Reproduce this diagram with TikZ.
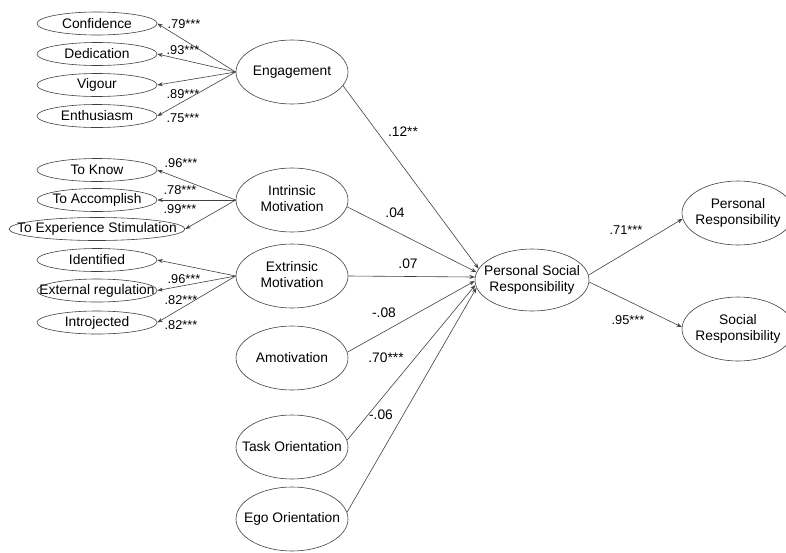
\documentclass[tikz,border=0pt]{standalone}
\usepackage{fontspec}
\setmainfont{Liberation Sans}
\usetikzlibrary{arrows.meta,shapes.geometric}

\definecolor{linegray}{RGB}{64,64,64}
\newcommand{\ctr}[1]{\makebox[0pt]{#1}}
\newcommand{\twoline}[2]{\makebox[0pt]{\begin{tabular}{@{}c@{}}#1\\#2\end{tabular}}}

\tikzset{
  item/.style={ellipse, draw=linegray, line width=0.6pt, inner sep=0pt,
    minimum width=120pt, minimum height=23pt, font=\fontsize{13.8}{16}\selectfont},
  latent/.style={item, minimum width=112pt, minimum height=64pt},
  coef/.style={inner sep=0pt, font=\fontsize{12.8}{14}\selectfont},
  pcoef/.style={inner sep=0pt, font=\fontsize{13.8}{16}\selectfont},
  arr/.style={draw=linegray, line width=0.6pt, -{Stealth[length=5.5pt,width=4pt]}}
}

\begin{document}
\begin{tikzpicture}[x=1pt,y=-1pt]
  \useasboundingbox (0,0) rectangle (786,552);

  % latent variables
  \node[latent] (eng) at (292,72) {\ctr{Engagement}};
  \node[latent] (intr) at (292,200) {\twoline{Intrinsic}{Motivation}};
  \node[latent] (extr) at (292,276) {\twoline{Extrinsic}{Motivation}};
  \node[latent] (amot) at (292,358) {\ctr{Amotivation}};
  \node[latent] (task) at (292,447) {\ctr{Task Orientation}};
  \node[latent] (ego) at (292,519) {\ctr{Ego Orientation}};
  \node[latent, minimum width=114pt, minimum height=62pt] (psr) at (532,280) {\twoline{Personal Social}{Responsibility}};
  \node[latent] (pers) at (738,213) {\twoline{Personal}{Responsibility}};
  \node[latent] (soc) at (738,329) {\twoline{Social}{Responsibility}};

  % indicators
  \node[item] (conf) at (97,23.5) {\ctr{Confidence}};
  \node[item] (ded) at (97,54) {\ctr{Dedication}};
  \node[item] (vig) at (97,85) {\ctr{Vigour}};
  \node[item] (enth) at (97,116) {\ctr{Enthusiasm}};
  \node[item] (know) at (97,170) {\ctr{To Know}};
  \node[item] (acc) at (97,200) {\ctr{To Accomplish}};
  \node[item, minimum width=176pt] (stim) at (97,229) {\ctr{To Experience Stimulation}};
  \node[item] (ident) at (97,260) {\ctr{Identified}};
  \node[item] (extreg) at (97,290.5) {\ctr{External regulation}};
  \node[item] (intro) at (97,322.5) {\ctr{Introjected}};

  % loadings
  \foreach \t in {conf,ded,vig,enth} \draw[arr] (eng.west) -- (\t.east);
  \foreach \t in {know,acc,stim} \draw[arr] (intr.west) -- (\t.east);
  \foreach \t in {ident,extreg,intro} \draw[arr] (extr.west) -- (\t.east);

  \node[coef] (lconf) at (184,24) {.79***};
  \node[coef] (lded) at (183,50) {.93***};
  \node[coef] (lvig) at (183,94) {.89***};
  \node[coef] (lenth) at (183,118) {.75***};
  \node[coef] (lknow) at (181,163) {.96***};
  \node[coef] (lacc) at (180,190) {.78***};
  \node[coef] (lstim) at (180,209) {.99***};
  \node[coef] (lextreg) at (184,279) {.96***};
  \node[coef] (lintroa) at (181,300) {.82***};
  \node[coef] (lintrob) at (181,325) {.82***};

  % structural paths
  \draw[arr] (eng.-15) -- (psr.168);
  \draw[arr] (intr.-7) -- (psr.172);
  \draw[arr] (extr.east) -- (psr.177);
  \draw[arr] (amot.6) -- (psr.181);
  \draw[arr] (task.7) -- (psr.185);
  \draw[arr] (ego.7) -- (psr.188);
  \draw[arr] (psr.5) -- (pers.186);
  \draw[arr] (psr.-2) -- (soc.178);

  \node[pcoef] (leng) at (403,132) {.12**};
  \node[pcoef] (lintr) at (395,213) {.04};
  \node[pcoef] (lextr) at (408,264) {.07};
  \node[pcoef] (lamot) at (384,313) {-.08};
  \node[pcoef] (ltask) at (386,358) {.70***};
  \node[pcoef] (lego) at (381,415) {-.06};
  \node[coef] (lpers) at (626,230) {.71***};
  \node[coef] (lsoc) at (628,320) {.95***};
\end{tikzpicture}
\end{document}
